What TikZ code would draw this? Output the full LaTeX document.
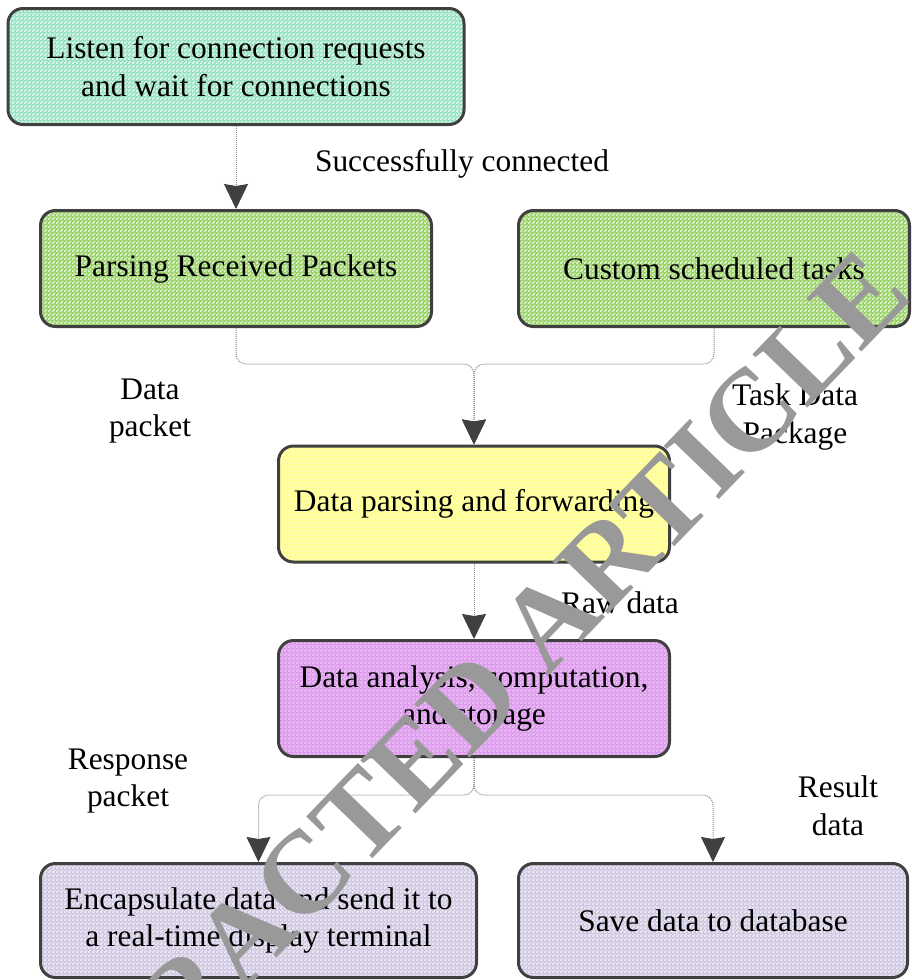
\documentclass[tikz,border=0pt]{standalone}
\usepackage{fontspec}
\setmainfont{Liberation Serif}
\usetikzlibrary{arrows.meta,patterns.meta}

\definecolor{edge}{HTML}{404040}
\definecolor{wire}{HTML}{8A8A8A}
\definecolor{mintbase}{HTML}{94E4C2}
\definecolor{mintdot}{HTML}{E8FAF2}
\definecolor{greenbase}{HTML}{9AD466}
\definecolor{greendot}{HTML}{E6F6D8}
\definecolor{yellowbase}{HTML}{FFFF8A}
\definecolor{yellowdot}{HTML}{FFFFC4}
\definecolor{violetbase}{HTML}{DE9AEE}
\definecolor{violetdot}{HTML}{EEC4F6}
\definecolor{lavbase}{HTML}{D0C8E2}
\definecolor{lavdot}{HTML}{F4F0FA}
\definecolor{stamp}{HTML}{999999}

% small checkered dot texture laid over the box fills
\tikzdeclarepattern{
  name=checkdots,
  type=uncolored,
  bottom left={(0pt,0pt)},
  top right={(4pt,4pt)},
  tile size={(4pt,4pt)},
  code={
    \pgfpathrectangle{\pgfpoint{0pt}{0pt}}{\pgfpoint{2pt}{2pt}}
    \pgfpathrectangle{\pgfpoint{2pt}{2pt}}{\pgfpoint{2pt}{2pt}}
    \pgfusepath{fill}
  }
}

\tikzset{
  box/.style={draw=edge, line width=3pt, rounded corners=15pt,
    align=center, inner sep=4pt,
    font=\fontsize{31.4}{37.6}\selectfont},
  tint/.style 2 args={preaction={fill=#1}, pattern=checkdots, pattern color=#2},
  lbl/.style={align=center, inner sep=0pt, font=\fontsize{31.4}{37.6}\selectfont},
  conn/.style={draw=wire, line width=1pt, dash pattern=on 1pt off 1pt,
    rounded corners=10pt,
    -{Stealth[width=24pt,length=25pt,inset=2pt,color=edge]}},
}

\begin{document}
\begin{tikzpicture}[x=1pt,y=-1pt]
\useasboundingbox (0,0) rectangle (911,980);

% process boxes
\node[box, tint={mintbase}{mintdot}, minimum width=456pt, minimum height=116pt]
  (listen) at (236,66.5) {Listen for connection requests\\and wait for connections};
\node[box, tint={greenbase}{greendot}, minimum width=391pt, minimum height=116pt]
  (parse) at (236,268.5) {Parsing Received Packets};
\node[box, tint={greenbase}{greendot}, minimum width=391pt, minimum height=116pt]
  (tasks) at (714,268.5) {Custom scheduled tasks};
\node[box, tint={yellowbase}{yellowdot}, minimum width=391pt, minimum height=116pt]
  (fwd) at (474,504) {Data parsing and forwarding};
\node[box, tint={violetbase}{violetdot}, minimum width=391pt, minimum height=116pt]
  (calc) at (474,698.5) {Data analysis, computation,\\and storage};
\node[box, tint={lavbase}{lavdot}, minimum width=436pt, minimum height=114pt]
  (send) at (258.5,920.5) {Encapsulate data and send it to\\a real-time display terminal};
\node[box, tint={lavbase}{lavdot}, minimum width=389pt, minimum height=114pt]
  (save) at (713,920.5) {Save data to database};

% junction points of the merging and splitting connectors
\coordinate (merge) at (474,364);
\coordinate (split) at (474,795);

% connectors
\draw[conn] (listen.south) -- (parse.north);
\draw[conn] (parse.south) |- (merge) -- (fwd.north);
\draw[conn] (tasks.south) |- (merge) -- (fwd.north);
\draw[conn] (fwd.south) -- (calc.north);
\draw[conn] (calc.south) -- (split) -| (send.north);
\draw[conn] (calc.south) -- (split) -| (save.north);

% connector labels
\node[lbl] (l1) at (462,164) {Successfully connected};
\node[lbl] (l2) at (150,411) {Data\\packet};
\node[lbl] (l3) at (795,417) {Task Data\\Package};
\node[lbl] (l4) at (620,603) {Raw data};
\node[lbl] (l5) at (128,781) {Response\\packet};
\node[lbl] (l6) at (838,806) {Result\\data};

% diagonal stamp across the sheet
\node[text=stamp, inner sep=0pt, anchor=base, rotate=46,
  font=\fontsize{117}{117}\selectfont\bfseries]
  (stampmark) at (466,762) {RETRACTED ARTICLE};
\end{tikzpicture}
\end{document}
